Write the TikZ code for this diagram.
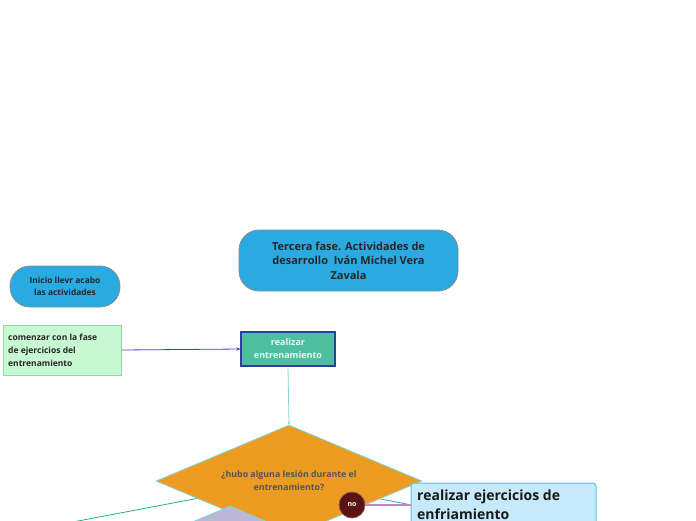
\documentclass[tikz,border=0pt]{standalone}
\usepackage{fontspec}
\setmainfont{Open Sans}
\usetikzlibrary{shapes.geometric,arrows.meta,backgrounds}
\definecolor{titleblue}{HTML}{29ABE2}
\definecolor{boxgray}{HTML}{8A8A8A}
\definecolor{lightgreen}{HTML}{C8F8D2}
\definecolor{greenborder}{HTML}{8EDC9E}
\definecolor{teal}{HTML}{4DBF9F}
\definecolor{navy}{HTML}{2E3F9E}
\definecolor{orangeF}{HTML}{EE9B21}
\definecolor{cyanB}{HTML}{7FD8D2}
\definecolor{lav}{HTML}{BCB6D8}
\definecolor{lineGreen}{HTML}{22B08A}
\definecolor{arrowBlue}{HTML}{3B4BB0}
\definecolor{noRed}{HTML}{5A1212}
\definecolor{pinkLine}{HTML}{C389C6}
\definecolor{paleBlue}{HTML}{C7EAFA}
\definecolor{paleBorder}{HTML}{5CC0EA}
\definecolor{txtgray}{HTML}{555555}
\tikzset{
  pill/.style={draw=boxgray, line width=0.8pt, fill=titleblue, rounded corners=#1, align=center, inner sep=0pt},
  notebox/.style={draw=greenborder, line width=0.8pt, fill=lightgreen, align=left, inner sep=0pt},
  taskbox/.style={draw=navy, line width=1.2pt, fill=teal, align=center, inner sep=0pt, text=white!88!teal},
  decision/.style={diamond, aspect=2.375, draw=cyanB, line width=0.8pt, inner sep=0pt, align=center},
  conn/.style={line width=0.8pt},
}
\begin{document}
\begin{tikzpicture}[x=1pt,y=-1pt]
\useasboundingbox (0,0) rectangle (696,520);
\clip (0,0) rectangle (696,520);
\node[pill=20pt, minimum width=219pt, minimum height=61pt, font=\fontsize{11}{14.5}\selectfont\bfseries, text=black!85] (title) at (348.5,260.5)
  {Tercera fase. Actividades de\\desarrollo\ \ Iván Michel Vera\\Zavala};
\node[pill=20pt, minimum width=110pt, minimum height=41pt, font=\fontsize{8.4}{11.5}\selectfont\bfseries, text=black!85] (inicio) at (65,286.5)
  {Inicio llevr acabo\\las actividades};
\node[notebox, minimum width=118pt, minimum height=50pt] (comenzar) at (62,350) {};
\node[anchor=west, align=left, inner sep=0pt, font=\fontsize{8.5}{13}\selectfont\bfseries, text=black!85] (comtext) at (8,350)
  {comenzar con la fase\\de ejercicios del\\entrenamiento};
\node[taskbox, minimum width=94pt, minimum height=34pt, font=\fontsize{9}{13}\selectfont\bfseries] (realizar) at (288,349)
  {realizar\\entrenamiento};
\node[decision, fill=orangeF, minimum width=266pt, minimum height=112pt, font=\fontsize{8.8}{13}\selectfont\bfseries, text=txtgray] (q) at (289,481)
  {¿hubo alguna lesión durante el\\entrenamiento?};
\node[decision, fill=lav, minimum width=266pt, minimum height=112pt] (q2) at (230,562) {};
\node[draw=paleBorder, line width=1pt, fill=paleBlue, rounded corners=3pt, minimum width=185pt, minimum height=80pt, inner sep=0pt] (enf) at (503.5,523) {};
\node[anchor=north west, align=left, font=\fontsize{14}{19}\selectfont\bfseries, text=black!90, inner sep=0pt] (enftext) at (417,489.5)
  {realizar ejercicios de\\enfriamiento};
\node[circle, draw=noRed!70!white, line width=0.8pt, fill=noRed, minimum size=26pt, inner sep=0pt, font=\fontsize{7}{8}\selectfont\bfseries, text=white] (no) at (352,505) {no};
\coordinate (lowleft) at (20,532);
\begin{pgfonlayer}{background}
\draw[conn, lineGreen] (q.center) -- (lowleft);
\draw[conn, lineGreen] (q.center) -- (enf.center);
\end{pgfonlayer}
\draw[conn, arrowBlue, -{Stealth[length=4pt,width=3.5pt]}] (comenzar.east) -- (realizar.west);
\draw[conn, cyanB, -{Stealth[length=3pt,width=3pt]}] (realizar.south) -- (q.north);
\draw[conn, pinkLine, line width=1.2pt] (no.east) -- (no -| enf.west);
\end{tikzpicture}
\end{document}
